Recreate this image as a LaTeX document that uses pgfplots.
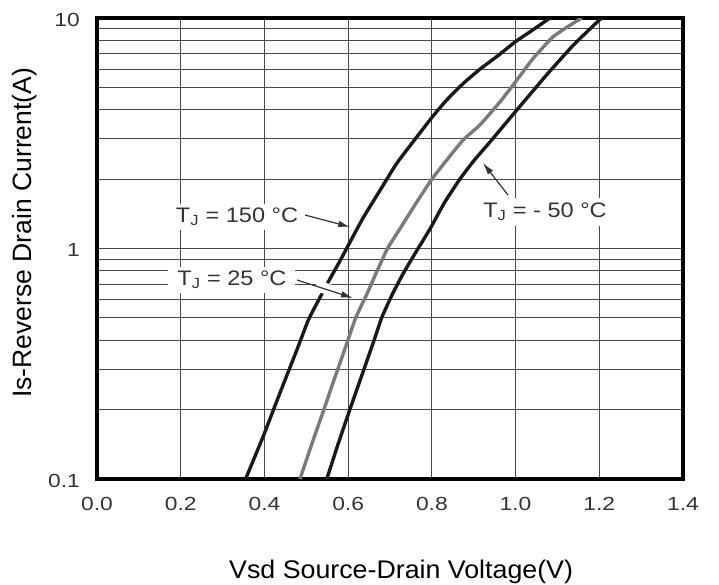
\documentclass[border=0pt]{standalone}
\usepackage{fontspec}
\setmainfont{Liberation Sans}
\newfontfamily\tickfont[FakeStretch=1.2]{Liberation Sans}
\newfontfamily\labfont[FakeStretch=1.05]{Liberation Sans}
\newfontfamily\annfont[FakeStretch=1.12]{Liberation Sans}
\usepackage{pgfplots}
\pgfplotsset{compat=1.18}
\usetikzlibrary{arrows.meta}
\definecolor{gridc}{HTML}{474747}
\definecolor{curveblack}{HTML}{1A1A1A}
\definecolor{curvegray}{HTML}{7A7A7A}
\definecolor{tickc}{HTML}{333333}
\begin{document}
\begin{tikzpicture}
\useasboundingbox (-97bp,-106bp) rectangle (622bp,479bp);
\begin{axis}[
  scale only axis, width=586bp, height=461bp,
  at={(0,0)}, anchor=south west,
  xmin=0, xmax=1.4, ymode=log, ymin=0.1, ymax=10,
  xtick={0,0.2,0.4,0.6,0.8,1.0,1.2,1.4},
  xticklabels={0.0,0.2,0.4,0.6,0.8,1.0,1.2,1.4},
  ytick={0.1,1,10}, yticklabels={0.1,1,10},
  minor ytick={0.2,0.3,0.4,0.5,0.6,0.7,0.8,0.9,2,3,4,5,6,7,8,9},
  grid=both,
  major grid style={draw=gridc, line width=0.9bp},
  minor grid style={draw=gridc, line width=0.9bp},
  major tick length=0pt, minor tick length=0pt,
  axis line style={line width=3.5bp, black},
  /pgf/number format/assume math mode=true,
  tick label style={font=\tickfont\fontsize{19bp}{22bp}\selectfont, text=tickc},
  xticklabel style={anchor=base, yshift=-31bp},
  yticklabel style={anchor=east, inner sep=0pt, xshift=-17bp, yshift=-1.5bp},
  xlabel={\labfont\fontsize{25.5bp}{30bp}\selectfont Vsd Source-Drain Voltage(V)},
  xlabel style={at={([yshift=-92.5bp]axis description cs:0.519,0)}, anchor=center},
  ylabel={\fontsize{26.5bp}{30bp}\selectfont Is-Reverse Drain Current(A)},
  ylabel style={at={([xshift=-72bp]axis description cs:0,0.534)}, anchor=center, rotate=0},
]
% T_J = 150 C
\addplot[curveblack, line width=3.4bp, line join=round, no marks, smooth, tension=0.3] coordinates {
(0.355,0.1) (0.397,0.153) (0.437,0.236) (0.478,0.365) (0.505,0.49) (0.53,0.60)
(0.555,0.73) (0.58,0.88) (0.60,1.03) (0.636,1.36) (0.678,1.81) (0.716,2.34)
(0.758,2.95) (0.800,3.7) (0.835,4.4) (0.875,5.2) (0.915,6.0) (0.955,6.8)
(1.0,7.9) (1.042,8.9) (1.082,10)
};
% T_J = 25 C
\addplot[curvegray, line width=3.4bp, line join=round, no marks, smooth, tension=0.3] coordinates {
(0.485,0.1) (0.515,0.145) (0.542,0.2) (0.565,0.265) (0.590,0.357) (0.618,0.5)
(0.644,0.63) (0.668,0.79) (0.694,1.0) (0.724,1.22) (0.762,1.57) (0.80,2.0)
(0.838,2.45) (0.875,2.96) (0.915,3.44) (0.963,4.33) (1.0,5.29) (1.042,6.68)
(1.09,8.3) (1.14,9.55) (1.158,10)
};
% T_J = -50 C
\addplot[curveblack, line width=3.4bp, line join=round, no marks, smooth, tension=0.3] coordinates {
(0.549,0.1) (0.575,0.14) (0.604,0.2) (0.638,0.3) (0.662,0.4) (0.680,0.5)
(0.705,0.63) (0.730,0.77) (0.755,0.92) (0.796,1.22) (0.830,1.58) (0.867,2.0)
(0.90,2.4) (0.939,2.9) (1.0,3.93) (1.074,5.66) (1.138,7.63) (1.2,9.8) (1.206,10)
};
\draw[white, line width=11bp] (axis cs:0.5232,0.691) -- (axis cs:0.5567,0.661);
\draw[tickc, line width=1.2bp, -{Latex[length=12bp,width=6.5bp]}] (axis cs:0.497,1.397) -- (axis cs:0.605,1.24);
\draw[tickc, line width=1.2bp, -{Latex[length=12bp,width=6.5bp]}] (axis cs:0.478,0.73) -- (axis cs:0.6116,0.61);
\draw[tickc, line width=1.2bp, -{Latex[length=12bp,width=6.5bp]}] (axis cs:0.9819,1.706) -- (axis cs:0.9222,2.35);
\node[fill=white, inner xsep=7bp, inner ysep=4bp, text=tickc, font=\annfont\fontsize{21bp}{24bp}\selectfont] at (axis cs:0.3345,1.37) {T\textsubscript{J} = 150 °C};
\node[fill=white, inner xsep=9bp, inner ysep=4bp, text=tickc, font=\annfont\fontsize{21bp}{24bp}\selectfont] at (axis cs:0.3225,0.73) {T\textsubscript{J} = 25 °C};
\node[fill=white, inner xsep=7bp, inner ysep=5bp, text=tickc, font=\annfont\fontsize{21bp}{24bp}\selectfont] at (axis cs:1.0703,1.44) {T\textsubscript{J} = - 50 °C};
\end{axis}
\end{tikzpicture}
\end{document}
